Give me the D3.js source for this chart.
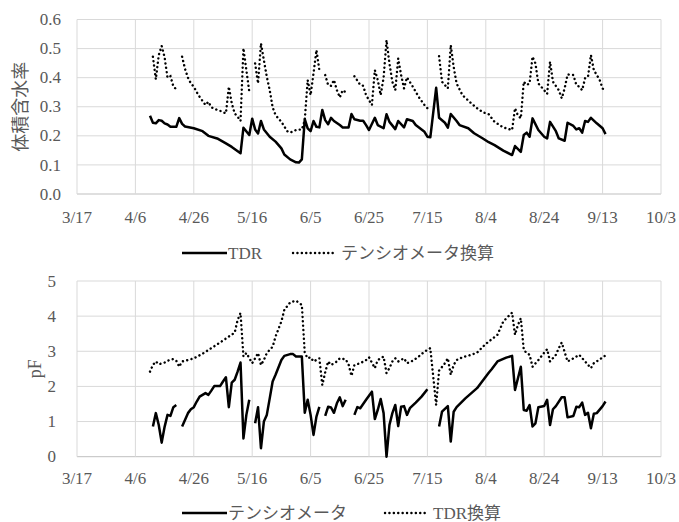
<!DOCTYPE html>
<html>
<head>
<meta charset="utf-8">
<script src="https://cdn.jsdelivr.net/npm/d3@7"></script>
<style>
  body { margin: 0; background: #fff; }
</style>
</head>
<body>
<svg width="679" height="522"></svg>
<script>
const svg = d3.select("svg");
const font = "'Liberation Serif', 'DejaVu Serif', 'Noto Sans CJK JP', serif";

// x axis: days counted from 3/17
const tickDays = [0, 20, 40, 60, 80, 100, 120, 140, 160, 180, 200];
const tickLabels = ["3/17", "4/6", "4/26", "5/16", "6/5", "6/25", "7/15", "8/4", "8/24", "9/13", "10/3"];

// top panel: volumetric water content
const tdrVwc = [[25,.269],[26,.245],[27,.243],[28,.254],[29,.252],[30,.243],[31,.239],[32,.231],[34,.231],[35,.261],
  [36,.241],[37,.232],[40,.226],[43,.216],[45,.200],[48,.191],[51,.174],[53,.162],[56,.140],[57,.228],[59,.203],
  [60,.259],[61,.222],[62,.208],[63,.251],[64,.222],[66,.197],[68,.180],[70,.157],[71,.136],[73,.119],[75,.109],
  [76,.108],[77,.119],[78,.257],[79,.226],[80,.216],[81,.251],[82,.231],[83,.229],[84,.289],[85,.254],[86,.240],
  [87,.262],[88,.251],[90,.237],[91,.229],[93,.229],[94,.275],[95,.257],[97,.252],[98,.252],[99,.237],[100,.220],
  [102,.262],[103,.237],[105,.226],[106,.274],[107,.248],[109,.223],[110,.251],[112,.229],[113,.257],[115,.251],
  [116,.237],[119,.214],[120,.197],[121,.195],[123,.365],[124,.262],[126,.245],[127,.228],[128,.275],[130,.251],
  [131,.237],[134,.226],[136,.209],[139,.191],[141,.178],[143,.168],[146,.149],[149,.134],[150,.165],[152,.145],
  [153,.203],[154,.211],[155,.197],[156,.260],[158,.220],[160,.197],[161,.191],[162,.248],[164,.216],[165,.191],
  [167,.183],[168,.245],[170,.234],[171,.222],[172,.226],[173,.211],[174,.251],[175,.248],[176,.262],[178,.243],
  [180,.226],[181,.206]];

const tensioVwc = [[26,.472],[27,.394],[28,.478],[29,.509],[30,.470],[31,.400],[32,.405],[33,.370],[34,.360],[35,null],
  [36,.472],[37,.430],[38,.400],[39,.380],[40,.369],[41,.350],[42,.334],[43,.320],[44,.306],[45,.317],[46,.298],
  [48,.289],[49,.286],[51,.277],[52,.369],[53,.312],[54,.277],[55,.266],[56,.251],[57,.501],[58,.426],[59,.352],[60,null],
  [61,.449],[62,.380],[63,.518],[64,.460],[65,.403],[66,.357],[67,.298],[68,.271],[70,.248],[72,.216],[73,.211],
  [75,.220],[77,.222],[78,.254],[79,.392],[80,.340],[81,.415],[82,.495],[83,.426],[84,null],
  [85,.409],[86,.375],[87,.372],[88,.392],[89,.357],[90,.332],[91,.357],[92,.350],[93,null],
  [95,.405],[96,.390],[97,.375],[98,.372],[99,.340],[100,.323],[101,.306],[102,.426],[103,.392],[104,.340],[105,.400],
  [106,.529],[107,.449],[108,.386],[109,.357],[110,.466],[111,.409],[112,.363],[113,.401],[114,.385],[115,.369],
  [117,.334],[119,.306],[120,.295],[122,null],
  [124,.474],[125,.386],[127,.363],[128,.512],[129,.437],[130,.380],[132,.340],[135,.312],[137,.295],[139,.281],
  [141,.274],[143,.248],[146,.229],[149,.220],[150,.295],[151,.270],[152,.260],[153,.386],[154,.375],[155,.380],
  [156,.472],[157,.449],[158,.380],[160,.357],[161,.344],[162,.455],[163,.386],[165,.357],[166,.329],[167,.363],
  [168,.411],[170,.409],[171,.375],[172,.369],[173,.357],[174,.398],[175,.403],[176,.478],[177,.426],[179,.392],
  [180,.363],[181,.352]];

// bottom panel: pF
const tensioPf = [[26,.86],[27,1.24],[28,.90],[29,.40],[30,.85],[31,1.19],[32,1.16],[33,1.41],[34,1.47],[35,null],
  [36,.86],[38,1.24],[39,1.35],[40,1.41],[41,1.57],[42,1.71],[44,1.81],[45,1.76],[46,1.88],[47,2.01],[49,2.01],
  [50,2.14],[51,2.26],[52,1.41],[53,2.11],[54,2.19],[55,2.42],[56,2.68],[57,.52],[58,1.19],[59,1.62],[60,null],
  [61,.95],[62,1.41],[63,.24],[64,1.00],[65,1.19],[66,1.66],[67,2.14],[68,2.33],[70,2.75],[71,2.87],[73,2.92],
  [74,2.92],[75,2.85],[77,2.85],[78,1.25],[79,1.62],[80,1.19],[81,.62],[82,1.14],[83,1.42],[84,null],
  [85,1.16],[86,1.42],[87,1.40],[88,1.25],[89,1.52],[90,1.69],[91,1.44],[92,1.62],[93,null],
  [95,1.19],[96,1.41],[97,1.38],[98,1.50],[99,1.62],[101,1.85],[102,1.07],[103,1.33],[104,1.64],[105,1.24],
  [106,0],[107,.90],[108,1.24],[109,1.47],[110,.87],[111,1.42],[112,1.44],[113,1.19],[114,1.38],[116,1.54],
  [118,1.71],[120,1.92],[122,null],
  [124,.86],[125,1.28],[127,1.44],[128,.43],[129,1.28],[130,1.41],[133,1.66],[137,1.95],[139,2.17],[141,2.39],
  [142,2.49],[144,2.71],[147,2.82],[149,2.87],[150,1.90],[152,2.56],[153,1.33],[154,1.31],[155,1.47],[156,.86],
  [157,.95],[158,1.41],[160,1.44],[161,1.62],[162,.90],[163,1.35],[164,1.44],[166,1.69],[167,1.69],[168,1.12],
  [170,1.16],[171,1.42],[172,1.41],[173,1.54],[174,1.19],[175,1.25],[176,.81],[177,1.22],[178,1.24],[180,1.44],
  [181,1.57]];

const tdrPf = [[25,2.42],[26,2.61],[27,2.71],[28,2.63],[30,2.68],[31,2.73],[33,2.78],[34,2.73],[35,2.56],[36,2.71],
  [38,2.75],[40,2.80],[43,2.93],[46,3.09],[49,3.25],[52,3.42],[54,3.53],[55,3.89],[56,4.09],[57,2.85],[58,2.95],
  [60,2.66],[61,2.80],[62,2.95],[63,2.61],[64,2.75],[65,2.95],[67,3.13],[68,3.42],[70,3.85],[71,4.18],[73,4.39],
  [75,4.44],[77,4.32],[78,2.95],[79,2.80],[80,2.83],[81,2.71],[83,2.80],[84,2.04],[85,2.40],[86,2.71],[87,2.61],
  [89,2.71],[90,2.80],[92,2.77],[93,2.63],[94,2.30],[95,2.61],[97,2.66],[99,2.75],[100,2.83],[102,2.52],[103,2.75],
  [105,2.85],[106,2.38],[107,2.52],[108,2.71],[109,2.80],[110,2.71],[112,2.80],[113,2.66],[115,2.73],[117,2.85],
  [119,2.99],[121,3.09],[123,1.47],[124,2.45],[126,2.66],[127,2.80],[128,2.33],[129,2.61],[130,2.75],[132,2.83],
  [135,2.90],[137,2.96],[139,3.13],[141,3.28],[142,3.34],[144,3.47],[146,3.85],[149,4.10],[150,3.47],[151,3.75],
  [152,3.94],[153,3.04],[154,2.95],[155,2.90],[156,2.56],[158,2.75],[160,2.96],[161,3.06],[162,2.71],[164,2.90],
  [165,3.09],[166,3.25],[168,2.71],[170,2.80],[172,2.90],[174,2.71],[176,2.52],[177,2.66],[181,2.88]];

const start = new Date(2019, 2, 17);
const day = d => d3.timeDay.offset(start, d);

const x = d3.scaleTime().domain([day(0), day(200)]).range([77, 661]);

function label(sel, size) {
  return sel.attr("font-family", font).attr("font-size", size).attr("fill", "#595959");
}

function panel(opt) {
  const y = d3.scaleLinear().domain(opt.domain).range([opt.bottom, opt.top]);
  const g = svg.append("g");

  // gridlines
  g.selectAll(".hg").data(opt.yTicks).join("line")
    .attr("x1", 77).attr("x2", 661)
    .attr("y1", d => y(d)).attr("y2", d => y(d))
    .attr("stroke", d => d === 0 ? "#bfbfbf" : "#d9d9d9").attr("stroke-width", 1);
  g.selectAll(".vg").data(tickDays).join("line")
    .attr("x1", d => x(day(d))).attr("x2", d => x(day(d)))
    .attr("y1", opt.top).attr("y2", opt.bottom)
    .attr("stroke", "#d9d9d9").attr("stroke-width", 1);

  // y ticks
  g.selectAll(".yl").data(opt.yTicks).join("text")
    .attr("x", 77 - opt.yPad).attr("y", d => y(d)).attr("dy", "0.33em")
    .attr("text-anchor", "end")
    .call(label, 17)
    .text(opt.yFormat);

  // x ticks
  g.selectAll(".xl").data(tickDays).join("text")
    .attr("x", d => x(day(d))).attr("y", opt.bottom + opt.xPad)
    .attr("text-anchor", "middle")
    .call(label, 17)
    .text((d, i) => tickLabels[i]);

  // axis title
  g.append("text")
    .attr("transform", `translate(${opt.titleX},${(opt.top + opt.bottom) / 2}) rotate(-90)`)
    .attr("text-anchor", "middle").attr("dy", "0.35em")
    .call(label, 18)
    .text(opt.title);

  const line = d3.line()
    .defined(d => d[1] != null)
    .x(d => x(day(d[0])))
    .y(d => y(d[1]));

  g.append("path").datum(opt.solid)
    .attr("d", line).attr("fill", "none")
    .attr("stroke", "#000").attr("stroke-width", 2.5).attr("stroke-linejoin", "round");
  g.append("path").datum(opt.dotted)
    .attr("d", line).attr("fill", "none")
    .attr("stroke", "#000").attr("stroke-width", 2.4).attr("stroke-dasharray", "0.1,4.3")
    .attr("stroke-linecap", "round");

  // legend
  const ly = opt.legendY;
  g.append("line").attr("x1", 182).attr("x2", 227).attr("y1", ly).attr("y2", ly)
    .attr("stroke", "#000").attr("stroke-width", 2.5);
  g.append("text").attr("x", 228).attr("y", ly).attr("dy", "0.35em")
    .call(label, 17).text(opt.names[0]);
  g.append("line").attr("x1", opt.dotX).attr("x2", opt.dotX + 42).attr("y1", ly).attr("y2", ly)
    .attr("stroke", "#000").attr("stroke-width", 2.4).attr("stroke-dasharray", "0.1,4.3")
    .attr("stroke-linecap", "round");
  g.append("text").attr("x", opt.dotX + 48).attr("y", ly).attr("dy", "0.35em")
    .call(label, 17).text(opt.names[1]);
}

panel({
  domain: [0, 0.6], top: 19.5, bottom: 194,
  yTicks: [0, 0.1, 0.2, 0.3, 0.4, 0.5, 0.6], yFormat: d3.format(".1f"), yPad: 16,
  xPad: 29, title: "体積含水率", titleX: 21,
  solid: tdrVwc, dotted: tensioVwc,
  legendY: 253, dotX: 293, names: ["TDR", "テンシオメータ換算"]
});

panel({
  domain: [0, 5], top: 281, bottom: 456.7,
  yTicks: [0, 1, 2, 3, 4, 5], yFormat: d3.format("d"), yPad: 21,
  xPad: 27, title: "pF", titleX: 35,
  solid: tensioPf, dotted: tdrPf,
  legendY: 513, dotX: 385, names: ["テンシオメータ", "TDR換算"]
});
</script>
</body>
</html>
